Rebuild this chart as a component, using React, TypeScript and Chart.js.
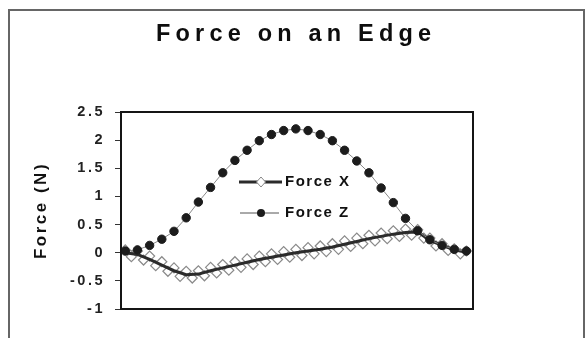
import React, { useEffect, useRef } from "react";
import { Chart, registerables } from "chart.js";

Chart.register(...registerables);

const chartTitle = "Force on an Edge";
const yAxisTitle = "Force (N)";
const legendLabels = ["Force X", "Force Z"];
const yMin = -1;
const yMax = 2.5;
const yStep = 0.5;

const sampleIndex = [0, 1, 2, 3, 4, 5, 6, 7, 8, 9, 10, 11, 12, 13, 14, 15, 16, 17, 18, 19, 20, 21, 22, 23, 24, 25, 26, 27, 28];

const forceZ = [0.03, 0.05, 0.13, 0.24, 0.38, 0.62, 0.9, 1.16, 1.42, 1.64, 1.82, 1.99, 2.1, 2.17, 2.2, 2.17, 2.1, 1.99, 1.82, 1.63, 1.42, 1.15, 0.89, 0.61, 0.39, 0.23, 0.13, 0.06, 0.03];

const forceXTrend = [0.0, -0.03, -0.12, -0.22, -0.32, -0.39, -0.38, -0.32, -0.27, -0.22, -0.17, -0.12, -0.08, -0.04, 0.0, 0.03, 0.06, 0.1, 0.15, 0.2, 0.25, 0.29, 0.33, 0.36, 0.37, 0.22, 0.13, 0.05, 0.01];

const forceXSampleIndex = [0, 0.5, 1, 1.5, 2, 2.5, 3, 3.5, 4, 4.5, 5, 5.5, 6, 6.5, 7, 7.5, 8, 8.5, 9, 9.5, 10, 10.5, 11, 11.5, 12, 12.5, 13, 13.5, 14, 14.5, 15, 15.5, 16, 16.5, 17, 17.5, 18, 18.5, 19, 19.5, 20, 20.5, 21, 21.5, 22, 22.5, 23, 23.5, 24, 24.5, 25, 25.5, 26, 26.5, 27, 27.5, 28];

const forceXSamples = [0.05, -0.07, 0.03, -0.13, -0.06, -0.23, -0.16, -0.33, -0.27, -0.42, -0.33, -0.45, -0.32, -0.41, -0.26, -0.36, -0.21, -0.31, -0.16, -0.26, -0.11, -0.21, -0.06, -0.16, -0.02, -0.12, 0.02, -0.08, 0.06, -0.05, 0.09, -0.02, 0.12, 0.02, 0.16, 0.06, 0.21, 0.11, 0.26, 0.16, 0.31, 0.21, 0.35, 0.25, 0.39, 0.29, 0.42, 0.31, 0.41, 0.26, 0.26, 0.12, 0.16, 0.04, 0.07, -0.02, 0.03];

const FONT = "'Liberation Sans', Arial, sans-serif";

const decorPlugin = {
  id: "decor",
  beforeDraw(chart: any) {
    (chart.ctx as any).letterSpacing = "2.5px";
  },
  afterDraw(chart: any) {
    const ctx = chart.ctx as CanvasRenderingContext2D;
    const a = chart.chartArea;
    ctx.save();
    // outer frame
    ctx.strokeStyle = "#666";
    ctx.lineWidth = 2;
    ctx.strokeRect(9, 10, 575, 340);
    // plot frame
    ctx.strokeStyle = "#151515";
    ctx.lineWidth = 2;
    ctx.strokeRect(a.left, a.top, a.right - a.left, a.bottom - a.top);
    // title
    (ctx as any).letterSpacing = "5.2px";
    ctx.fillStyle = "#0d0d0d";
    ctx.font = `bold 23.5px ${FONT}`;
    ctx.textAlign = "left";
    ctx.textBaseline = "alphabetic";
    ctx.fillText(chartTitle, 156, 41);
    // legend
    const lx0 = 239, lx1 = 282, mx = 261;
    const yX = 182, yZ = 213;
    ctx.strokeStyle = "#2b2b2b";
    ctx.lineWidth = 3;
    ctx.beginPath();
    ctx.moveTo(lx0, yX);
    ctx.lineTo(lx1, yX);
    ctx.stroke();
    ctx.beginPath();
    ctx.moveTo(mx, yX - 5);
    ctx.lineTo(mx + 4.5, yX);
    ctx.lineTo(mx, yX + 5);
    ctx.lineTo(mx - 4.5, yX);
    ctx.closePath();
    ctx.fillStyle = "#fff";
    ctx.fill();
    ctx.strokeStyle = "#888";
    ctx.lineWidth = 1;
    ctx.stroke();
    ctx.strokeStyle = "#555";
    ctx.lineWidth = 1;
    ctx.beginPath();
    ctx.moveTo(lx0 + 1, yZ);
    ctx.lineTo(lx1 - 3, yZ);
    ctx.stroke();
    ctx.fillStyle = "#1c1c1c";
    ctx.beginPath();
    ctx.arc(mx, yZ, 4, 0, Math.PI * 2);
    ctx.fill();
    (ctx as any).letterSpacing = "1.5px";
    ctx.font = `bold 15px ${FONT}`;
    ctx.fillStyle = "#111";
    ctx.textBaseline = "middle";
    ctx.fillText(legendLabels[0], 285, yX);
    ctx.fillText(legendLabels[1], 285, yZ);
    ctx.restore();
  },
};

export default function App() {
  const ref = useRef<HTMLCanvasElement>(null);
  useEffect(() => {
    if (!ref.current) return;
    const zPts = sampleIndex.map((x, i) => ({ x, y: forceZ[i] }));
    const trendPts = sampleIndex.map((x, i) => ({ x, y: forceXTrend[i] }));
    const samplePts = forceXSampleIndex.map((x, i) => ({ x, y: forceXSamples[i] }));
    const chart = new Chart(ref.current, {
      type: "line",
      data: {
        datasets: [
          {
            label: legendLabels[1],
            data: zPts,
            order: 0,
            borderColor: "#888",
            borderWidth: 1,
            pointStyle: "circle",
            pointRadius: 4.2,
            pointBackgroundColor: "#1c1c1c",
            pointBorderColor: "#1c1c1c",
            pointBorderWidth: 1,
            tension: 0,
          },
          {
            label: legendLabels[0],
            data: trendPts,
            order: 1,
            borderColor: "#2b2b2b",
            borderWidth: 3,
            pointRadius: 0,
            tension: 0,
          },
          {
            label: legendLabels[0] + " samples",
            data: samplePts,
            order: 2,
            showLine: false,
            pointStyle: "rectRot",
            pointRadius: 5,
            pointBackgroundColor: "rgba(255,255,255,0)",
            pointBorderColor: "#8a8a8a",
            pointBorderWidth: 1.2,
          },
        ],
      },
      options: {
        animation: false,
        responsive: false,
        events: [],
        layout: { padding: { left: 0, top: 112, right: 112, bottom: 29 } },
        plugins: {
          legend: { display: false },
          title: { display: false },
          tooltip: { enabled: false },
        },
        scales: {
          x: { type: "linear", min: -0.35, max: 28.54, display: false },
          y: {
            type: "linear",
            min: yMin,
            max: yMax,
            ticks: {
              stepSize: yStep,
              color: "#222",
              padding: 10,
              font: { family: FONT, size: 14.5, weight: "bold" },
              callback: (v: any) => String(v),
            },
            grid: { drawOnChartArea: false, drawTicks: true, tickLength: 6, color: "#333", lineWidth: 1 },
            border: { display: false },
            title: {
              display: true,
              text: yAxisTitle,
              color: "#111",
              font: { family: FONT, size: 17, weight: "bold" },
              padding: { top: 31, bottom: 0 },
            },
            afterFit(scale: any) {
              scale.width = 121;
            },
          },
        },
      },
      plugins: [decorPlugin],
    } as any);
    return () => chart.destroy();
  }, []);
  return (
    <div style={{ position: "absolute", left: 0, top: 0, width: 585, height: 338, background: "#fff" }}>
      <canvas ref={ref} width={585} height={338} style={{ display: "block" }} />
    </div>
  );
}
